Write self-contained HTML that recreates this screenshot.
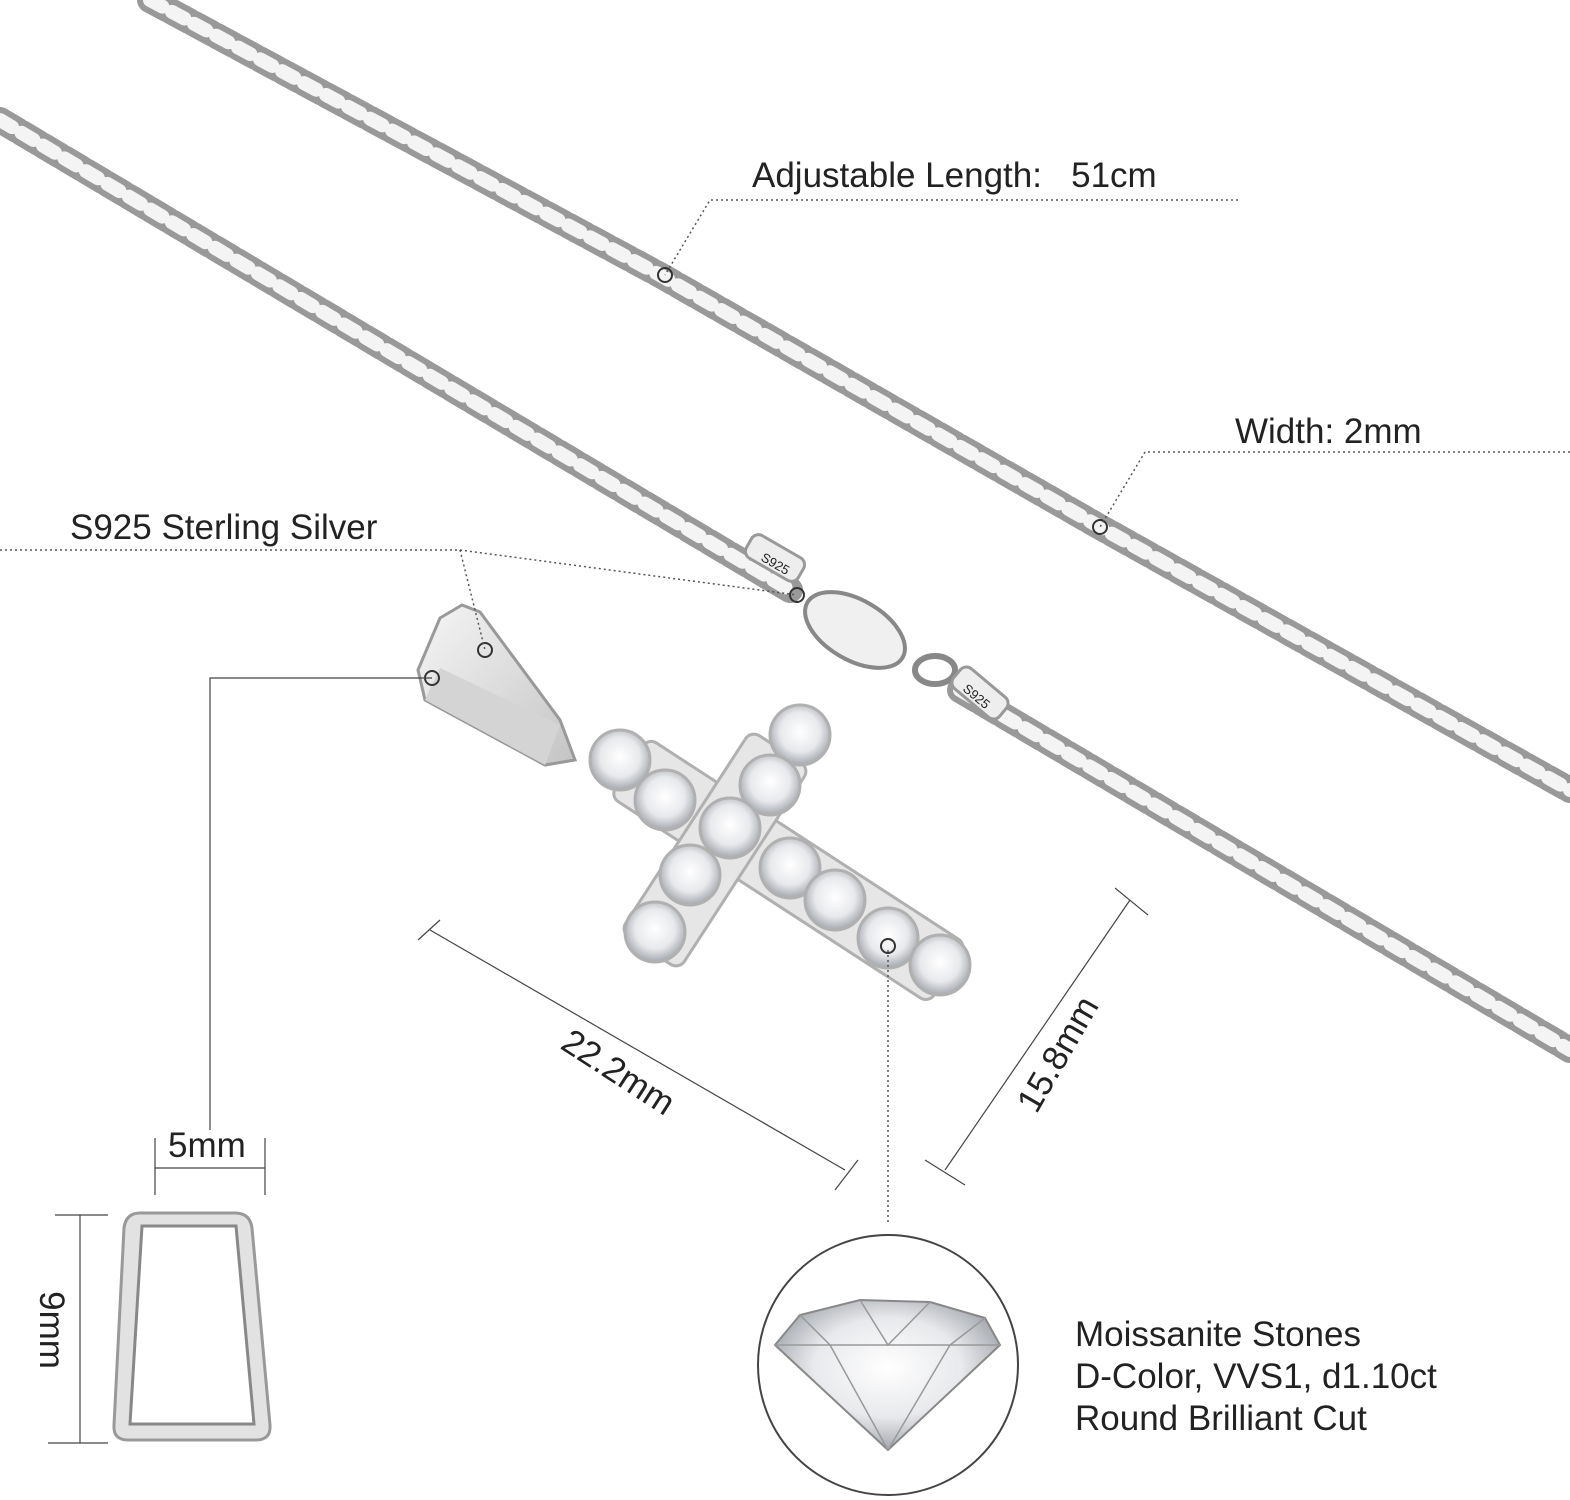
<!DOCTYPE html>
<html><head><meta charset="utf-8"><style>
html,body{margin:0;padding:0;background:#fff;}
svg{display:block}
text{font-family:"Liberation Sans",sans-serif;fill:#222}
</style></head><body>
<svg width="1570" height="1500" viewBox="0 0 1570 1500" xmlns="http://www.w3.org/2000/svg">
<defs>
<radialGradient id="st" cx="50%" cy="45%" r="55%">
<stop offset="0" stop-color="#fff"/><stop offset="0.6" stop-color="#e8e9ec"/><stop offset="1" stop-color="#a4a8ae"/>
</radialGradient>
<linearGradient id="bl" x1="0" y1="0" x2="1" y2="1">
<stop offset="0" stop-color="#f6f6f6"/><stop offset="1" stop-color="#c4c4c4"/>
</linearGradient>
</defs>
<g fill="none" stroke-linecap="round">
<path d="M150,0 L660,275 L1100,527 L1570,790" stroke="#999" stroke-width="26" stroke-dasharray="20 5"/>
<path d="M150,0 L660,275 L1100,527 L1570,790" stroke="#f4f4f4" stroke-width="14" stroke-dasharray="14 11"/>
<path d="M0,120 L790,590" stroke="#999" stroke-width="26" stroke-dasharray="20 5"/>
<path d="M0,120 L790,590" stroke="#f4f4f4" stroke-width="14" stroke-dasharray="14 11"/>
<path d="M960,690 L1570,1050" stroke="#999" stroke-width="26" stroke-dasharray="20 5"/>
<path d="M960,690 L1570,1050" stroke="#f4f4f4" stroke-width="14" stroke-dasharray="14 11"/>
</g>
<ellipse cx="855" cy="630" rx="55" ry="30" transform="rotate(30 855 630)" fill="#f0f0f0" stroke="#888" stroke-width="4"/>
<ellipse cx="935" cy="670" rx="20" ry="14" fill="none" stroke="#888" stroke-width="6"/>
<rect x="745" y="545" width="60" height="26" rx="8" transform="rotate(30 775 558)" fill="#eee" stroke="#999" stroke-width="3"/>
<rect x="950" y="680" width="60" height="26" rx="8" transform="rotate(40 980 693)" fill="#eee" stroke="#999" stroke-width="3"/>
<text x="760" y="560" font-size="13" transform="rotate(30 760 560)">S925</text>
<text x="962" y="690" font-size="13" transform="rotate(40 962 690)">S925</text>
<!-- bail -->
<path d="M418,670 L440,618 L462,605 L480,612 L560,720 L575,760 L545,765 L425,700 Z" fill="url(#bl)" stroke="#999" stroke-width="3"/>
<path d="M425,700 L545,765 L560,725 L440,668 Z" fill="#d4d4d4"/>
<g stroke="#b0b0b0" stroke-width="3" fill="url(#st)">
<rect x="600" y="830" width="380" height="70" rx="10" transform="rotate(33 780 865)" fill="#e6e6e6"/>
<rect x="680" y="730" width="70" height="240" rx="10" transform="rotate(33 715 850)" fill="#e6e6e6"/>
<circle cx="620" cy="760" r="30"/><circle cx="665" cy="800" r="30"/>
<circle cx="800" cy="735" r="30"/><circle cx="770" cy="785" r="30"/>
<circle cx="730" cy="828" r="30"/>
<circle cx="790" cy="868" r="30"/><circle cx="835" cy="900" r="30"/>
<circle cx="888" cy="938" r="30"/><circle cx="940" cy="965" r="30"/>
<circle cx="690" cy="875" r="30"/><circle cx="655" cy="932" r="30"/>
</g>
<g fill="none" stroke="#333" stroke-width="2">
<circle cx="665" cy="275" r="7"/><circle cx="1100" cy="527" r="7"/>
<circle cx="797" cy="595" r="7"/><circle cx="485" cy="650" r="7"/>
<circle cx="432" cy="678" r="7"/><circle cx="888" cy="946" r="7"/>
</g>
<g stroke="#555" stroke-width="1.5" stroke-dasharray="2 3" fill="none">
<path d="M1238,200 L710,200 L665,275"/>
<path d="M1570,452 L1145,452 L1100,527"/>
<path d="M0,550 L460,550 L485,650"/>
<path d="M460,550 L797,595"/>
<path d="M888,950 L888,1225"/>
</g>
<g stroke="#444" stroke-width="1.2" fill="none">
<path d="M432,678 L210,678 L210,1130"/>
<path d="M430,930 L845,1170"/><path d="M418,940 L440,920"/><path d="M835,1190 L858,1160"/>
<path d="M1130,900 L945,1170"/><path d="M1115,888 L1148,915"/><path d="M925,1160 L965,1185"/>
<path d="M155,1168 L265,1168"/><path d="M155,1138 L155,1195"/><path d="M265,1138 L265,1195"/>
<path d="M80,1215 L80,1443"/><path d="M55,1215 L108,1215"/><path d="M48,1443 L108,1443"/>
</g>
<path d="M140,1213 L235,1213 Q250,1213 252,1228 L270,1425 Q271,1440 256,1440 L128,1440 Q113,1440 114,1425 L124,1228 Q126,1213 140,1213 Z" fill="#e2e2e2" stroke="#999" stroke-width="3"/>
<path d="M142,1226 L236,1226 L254,1424 L130,1424 Z" fill="#fff" stroke="#888" stroke-width="3"/>
<circle cx="888" cy="1365" r="130" fill="#fff" stroke="#444" stroke-width="2"/>
<path d="M775,1345 L800,1315 L860,1300 L930,1302 L985,1318 L1000,1345 L888,1450 Z" fill="url(#st)" stroke="#888" stroke-width="2"/>
<path d="M775,1345 L1000,1345 M800,1315 L830,1345 L888,1450 M985,1318 L950,1345 L888,1450 M860,1300 L888,1345 L930,1302" stroke="#999" stroke-width="1.5" fill="none"/>
<text x="752" y="187" font-size="35">Adjustable Length:&#160;&#160; 51cm</text>
<text x="1235" y="443" font-size="35">Width: 2mm</text>
<text x="70" y="539" font-size="35">S925 Sterling Silver</text>
<text x="168" y="1157" font-size="35">5mm</text>
<text x="0" y="0" font-size="35" transform="translate(40,1330) rotate(90)" text-anchor="middle">9mm</text>
<text x="0" y="0" font-size="35" transform="translate(612,1082) rotate(33)" text-anchor="middle">22.2mm</text>
<text x="0" y="0" font-size="35" transform="translate(1068,1060) rotate(-60)" text-anchor="middle">15.8mm</text>
<text x="1075" y="1346" font-size="35">Moissanite Stones</text>
<text x="1075" y="1388" font-size="35">D-Color, VVS1, d1.10ct</text>
<text x="1075" y="1430" font-size="35">Round Brilliant Cut</text>
</svg>
</body></html>
